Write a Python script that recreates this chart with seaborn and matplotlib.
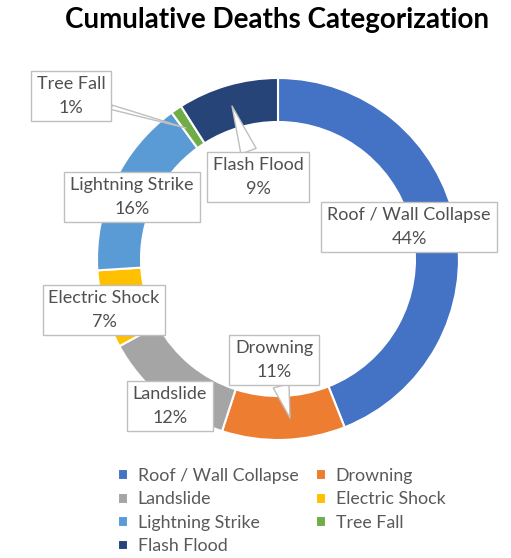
import matplotlib
matplotlib.use("Agg")
import matplotlib.pyplot as plt
import seaborn as sns

# data
categories = ["Roof / Wall Collapse", "Drowning", "Landslide", "Electric Shock",
              "Lightning Strike", "Tree Fall", "Flash Flood"]
shares = [44, 11, 12, 7, 16, 1, 9]
colors = ["#4472C4", "#ED7D31", "#A5A5A5", "#FFC000", "#5B9BD5", "#70AD47", "#264478"]

sns.set_theme(style="white")
plt.rcParams['font.family'] = ['Lato', 'DejaVu Sans']

W, H = 511, 558
fig = plt.figure(figsize=(W / 100, H / 100), dpi=100)
ax = fig.add_axes([0, 0, 1, 1])

# pixel-like data coordinates (y up)
cx, cy, R = 278, H - 259, 181
wedges, _ = ax.pie(shares, colors=sns.color_palette(colors), startangle=90, counterclock=False,
                   center=(cx, cy), radius=R,
                   wedgeprops=dict(width=44, edgecolor='white', linewidth=1.5))
ax.set_xlim(0, W)
ax.set_ylim(0, H)
ax.set_aspect('equal')
ax.axis('off')

# label boxes: (box centre, pointer tip or None), in image pixels
label_pos = {
    "Roof / Wall Collapse": ((409, 227), None),
    "Drowning": ((274, 360), (290, 418)),
    "Landslide": ((170, 406), None),
    "Electric Shock": ((104, 310), None),
    "Lightning Strike": ((132, 197), None),
    "Tree Fall": ((71, 96), (186, 128)),
    "Flash Flood": ((258, 177), (232, 106)),
}
box = dict(boxstyle='square,pad=0.32', fc='white', ec='#BFBFBF', lw=1)
for cat, val in zip(categories, shares):
    (bx, by), tip = label_pos[cat]
    txt = f"{cat}\n{val}%"
    if tip is None:
        ax.text(bx, H - by, txt, ha='center', va='center', fontsize=13,
                color='#505050', linespacing=1.55, bbox=box, zorder=5)
    else:
        tw = 0.25 if cat == "Tree Fall" else 0.9
        ax.annotate(txt, xy=(tip[0], H - tip[1]), xytext=(bx, H - by),
                    ha='center', va='center', fontsize=13, color='#505050',
                    linespacing=1.55, bbox=box, zorder=5,
                    arrowprops=dict(arrowstyle=f"wedge,tail_width={tw}", fc='white',
                                    ec='#BFBFBF', lw=1, shrinkA=0, shrinkB=0))

fig.text(277 / W, 1 - 20 / H, "Cumulative Deaths Categorization", ha='center', va='center',
         fontsize=20, fontweight='bold', color='black')

order = [0, 2, 4, 6, 1, 3, 5]
fig.legend([wedges[i] for i in order], [categories[i] for i in order],
           loc='upper left', bbox_to_anchor=(102 / W, 1 - 452 / H), ncol=2,
           frameon=False, fontsize=12.8, labelcolor='#595959',
           handlelength=0.55, handleheight=0.55, handletextpad=0.55,
           columnspacing=1.0, labelspacing=0.42)

fig.savefig("out.png", dpi=100)
